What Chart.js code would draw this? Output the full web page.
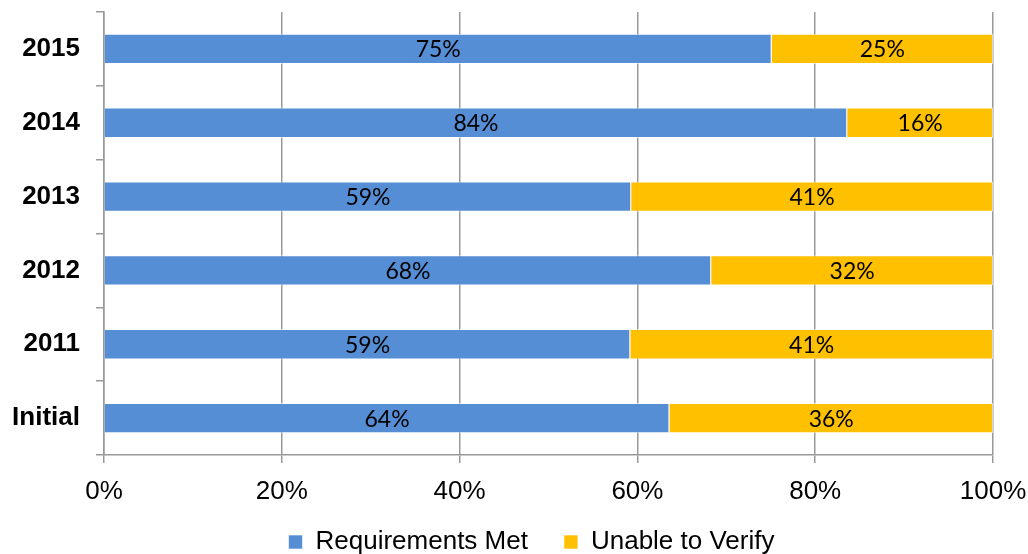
<!DOCTYPE html>
<html>
<head>
<meta charset="utf-8">
<script src="https://cdn.jsdelivr.net/npm/chart.js@4"></script>
<style>
  html, body { margin: 0; padding: 0; background: #fff; }
  #wrap { width: 1028px; height: 554px; }
</style>
</head>
<body>
<div id="wrap"><canvas id="myChart"></canvas></div>
<script>
const categories = ['2015', '2014', '2013', '2012', '2011', 'Initial'];
const requirementsMet = [75.1, 83.6, 59.3, 68.3, 59.2, 63.6];
const unableToVerify = [24.9, 16.4, 40.7, 31.7, 40.8, 36.4];
const xTicks = ['0%', '20%', '40%', '60%', '80%', '100%'];

// labels in the middle of each bar segment
const barLabels = {
    id: 'barLabels',
    afterDatasetsDraw(chart) {
        const c = chart.ctx;
        c.save();
        c.font = '23px Lato, "Open Sans", sans-serif';
        c.fillStyle = '#000';
        c.textAlign = 'center';
        c.textBaseline = 'middle';
        chart.data.datasets.forEach((ds, i) => {
            chart.getDatasetMeta(i).data.forEach((bar, j) => {
                const mid = (bar.x + bar.base) / 2;
                c.fillText(Math.round(ds.data[j]) + '%', mid, bar.y + 1);
            });
        });
        c.restore();
    }
};

// nudge the legend down/right (wide item gap needs big padding),
// and let the x tick labels spill below the squeezed axis box
const legendShift = {
    id: 'legendShift',
    afterLayout(chart) {
        const lg = chart.legend;
        lg.top += 11;
        lg.bottom += 11;
        lg.left += 35;
        lg.right += 35;
        chart.scales.x.bottom = chart.height;
    }
};

const axisFont = '"Liberation Sans", Arial, sans-serif';
const ctx = document.getElementById('myChart').getContext('2d');

const chart = new Chart(ctx, {
    type: 'bar',
    data: {
        labels: categories,
        datasets: [
            {
                label: 'Requirements Met',
                data: requirementsMet,
                backgroundColor: '#558ED5',
                borderColor: 'rgba(255,255,255,0.6)',
                borderWidth: 1,
                categoryPercentage: 1,
                barPercentage: 0.41,
            },
            {
                label: 'Unable to Verify',
                data: unableToVerify,
                backgroundColor: '#FFC000',
                borderColor: 'rgba(255,255,255,0.6)',
                borderWidth: 1,
                categoryPercentage: 1,
                barPercentage: 0.41,
            }
        ]
    },
    options: {
        indexAxis: 'y',
        responsive: true,
        maintainAspectRatio: false,
        animation: false,
        layout: { padding: { top: 12, right: 35, left: 0, bottom: 0 } },
        plugins: {
            legend: {
                display: true,
                position: 'bottom',
                labels: {
                    color: '#000',
                    boxWidth: 14,
                    boxHeight: 14,
                    padding: 36,
                    font: { family: axisFont, size: 26 }
                }
            },
            tooltip: { enabled: false }
        },
        scales: {
            x: {
                stacked: true,
                min: 0,
                max: 100,
                ticks: {
                    stepSize: 20,
                    maxRotation: 0,
                    color: '#000',
                    padding: 13,
                    font: { family: axisFont, size: 26 },
                    callback: (v, i) => xTicks[i]
                },
                grid: {
                    color: '#999',
                    lineWidth: 1.5,
                    drawTicks: true,
                    tickLength: 8,
                },
                border: { display: true, color: '#999', width: 1.5 },
                afterFit: (scale) => {
                    scale.height = 27;
                    scale.paddingLeft = 0;
                    scale.paddingRight = 0;
                }
            },
            y: {
                stacked: true,
                ticks: {
                    color: '#000',
                    padding: 16,
                    font: { family: axisFont, size: 26, weight: 'bold' }
                },
                grid: {
                    drawOnChartArea: false,
                    drawTicks: true,
                    tickLength: 8,
                    color: '#999',
                    lineWidth: 1.5,
                },
                border: { display: true, color: '#999', width: 1.5 },
                afterFit: (scale) => {
                    scale.width = 104;
                    scale.paddingTop = 0;
                    scale.paddingBottom = 0;
                }
            }
        }
    },
    plugins: [barLabels, legendShift]
});
</script>
</body>
</html>
